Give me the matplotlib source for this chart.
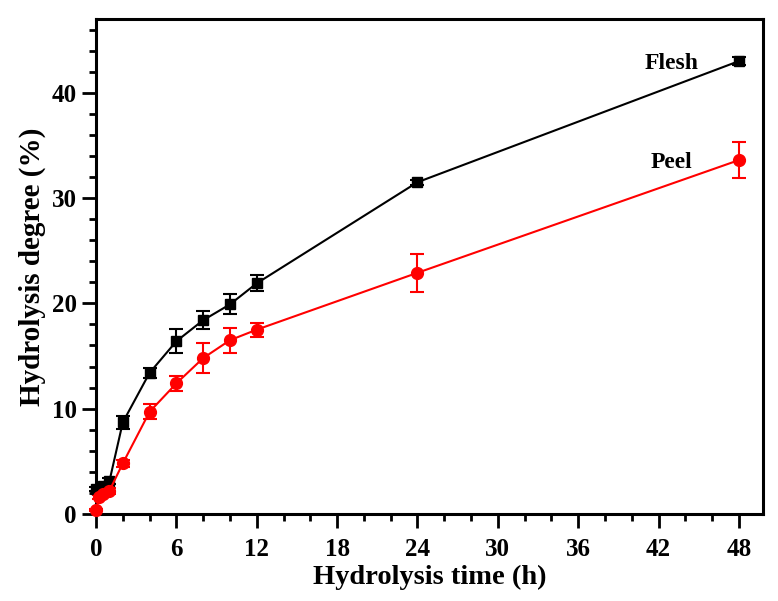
import matplotlib.pyplot as plt
from matplotlib.ticker import MultipleLocator

# hydrolysis time (h)
time_flesh = [0, 0.5, 1, 2, 4, 6, 8, 10, 12, 24, 48]
flesh = [2.4, 2.7, 3.1, 8.7, 13.4, 16.4, 18.4, 19.9, 21.9, 31.5, 43.0]
flesh_err = [0.2, 0.2, 0.3, 0.6, 0.5, 1.15, 0.85, 0.95, 0.75, 0.25, 0.4]

time_peel = [0, 0.25, 0.5, 1, 2, 4, 6, 8, 10, 12, 24, 48]
peel = [0.4, 1.6, 1.9, 2.2, 4.8, 9.7, 12.4, 14.8, 16.5, 17.5, 22.9, 33.6]
peel_err = [0.1, 0.2, 0.2, 0.3, 0.3, 0.7, 0.7, 1.4, 1.2, 0.65, 1.8, 1.7]

plt.rcParams['font.family'] = 'Liberation Serif'
plt.rcParams['font.weight'] = 'bold'

fig = plt.figure(figsize=(7.78, 6.01), dpi=100)
ax = fig.add_axes([0.1234, 0.1448, 0.8573, 0.8236])

ax.errorbar(time_flesh, flesh, yerr=flesh_err, color='black', marker='s',
            markersize=7.5, linewidth=1.5, elinewidth=1.5, capsize=5,
            capthick=1.5, clip_on=False, zorder=3)
ax.errorbar(time_peel, peel, yerr=peel_err, color='red', marker='o',
            markersize=8.5, linewidth=1.5, elinewidth=1.5, capsize=5,
            capthick=1.5, clip_on=False, zorder=3)

ax.text(43, 42.8, 'Flesh', fontsize=17, fontweight='bold', ha='center', va='center')
ax.text(43, 33.4, 'Peel', fontsize=17, fontweight='bold', ha='center', va='center')

ax.set_xlim(0, 49.8)
ax.set_ylim(0, 47)
ax.xaxis.set_major_locator(MultipleLocator(6))
ax.xaxis.set_minor_locator(MultipleLocator(2))
ax.yaxis.set_major_locator(MultipleLocator(10))
ax.yaxis.set_minor_locator(MultipleLocator(2))

for s in ax.spines.values():
    s.set_linewidth(2.2)
ax.tick_params(which='major', direction='out', length=10, width=2, labelsize=18, pad=4)
ax.tick_params(axis='x', which='major', pad=7)
ax.tick_params(which='minor', direction='out', length=5, width=2)
for lbl in ax.get_xticklabels() + ax.get_yticklabels():
    lbl.set_fontweight('bold')

ax.set_xlabel('Hydrolysis time (h)', fontsize=20.5, fontweight='bold', labelpad=3)
ax.set_ylabel('Hydrolysis degree (%)', fontsize=21, fontweight='bold', labelpad=4)

fig.savefig('out.png', dpi=100)
